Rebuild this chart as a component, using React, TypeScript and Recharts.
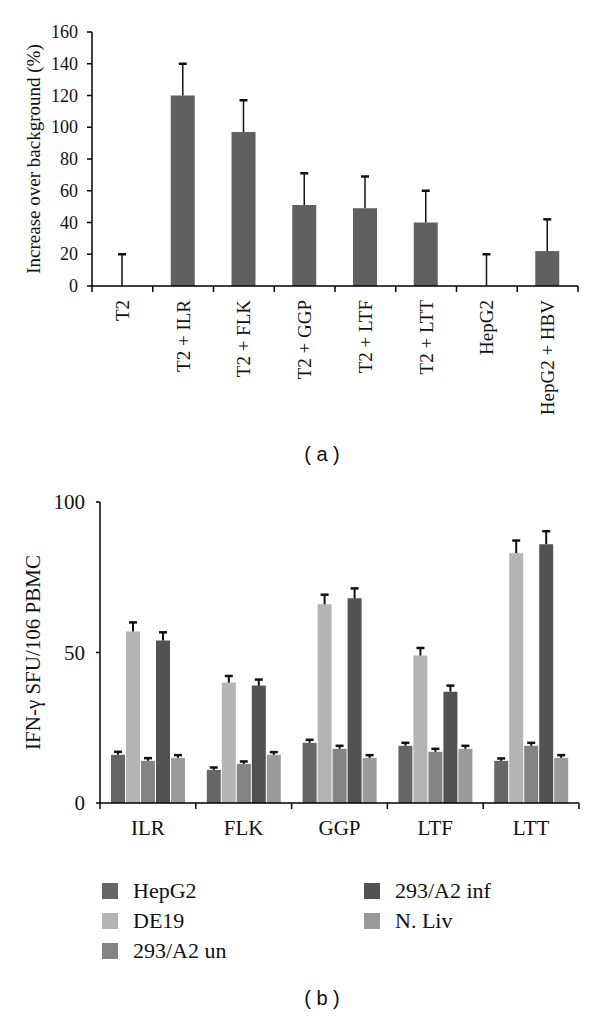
import React from 'react';
import { BarChart, Bar, XAxis, YAxis } from 'recharts';

// panel (a)
const TOP_CATEGORIES = ['T2', 'T2 + ILR', 'T2 + FLK', 'T2 + GGP', 'T2 + LTF', 'T2 + LTT', 'HepG2', 'HepG2 + HBV'];
const TOP_VALUES = [0, 120, 97, 51, 49, 40, 0, 22];
const TOP_ERRORS = [20, 20, 20, 20, 20, 20, 20, 20];
const TOP_TICKS = [0, 20, 40, 60, 80, 100, 120, 140, 160];

// panel (b)
const PEPTIDES = ['ILR', 'FLK', 'GGP', 'LTF', 'LTT'];
const SERIES_NAMES = ['HepG2', 'DE19', '293/A2 un', '293/A2 inf', 'N. Liv'];
const HEPG2_VALUES = [16, 11, 20, 19, 14];
const HEPG2_ERRORS = [1, 0.8, 1, 1, 0.8];
const DE19_VALUES = [57, 40, 66, 49, 83];
const DE19_ERRORS = [3, 2.2, 3.2, 2.5, 4.2];
const A2UN_VALUES = [14, 13, 18, 17, 19];
const A2UN_ERRORS = [0.9, 0.8, 1, 1, 1];
const A2INF_VALUES = [54, 39, 68, 37, 86];
const A2INF_ERRORS = [2.7, 2, 3.3, 2, 4.3];
const NLIV_VALUES = [15, 16, 15, 18, 15];
const NLIV_ERRORS = [0.9, 0.9, 0.9, 1, 0.9];
const BOTTOM_TICKS = [0, 50, 100];

const SERIES_VALUES = [HEPG2_VALUES, DE19_VALUES, A2UN_VALUES, A2INF_VALUES, NLIV_VALUES];
const SERIES_ERRORS = [HEPG2_ERRORS, DE19_ERRORS, A2UN_ERRORS, A2INF_ERRORS, NLIV_ERRORS];
const SERIES_COLORS = ['#666666', '#b4b4b4', '#848484', '#525252', '#9a9a9a'];

const SERIF = '"Liberation Serif", "Times New Roman", serif';

const topData = TOP_CATEGORIES.map((name, i) => ({ name, value: TOP_VALUES[i], err: TOP_ERRORS[i] }));

const bottomData = PEPTIDES.map((name, i) => {
    const row: Record<string, any> = { name };
    SERIES_VALUES.forEach((vals, s) => {
        row[`v${s}`] = vals[i];
        row[`e${s}`] = SERIES_ERRORS[s][i];
    });
    return row;
});

// error bar drawn as the stacked segment above each bar: stem + top cap only
const makeErrShape = (capHalf: number, stemWidth: number, capWidth: number) => (props: any) => {
    const { x, y, width, height } = props;
    if (height == null || isNaN(y)) return <g />;
    const cx = x + width / 2;
    return (
        <g>
            <line x1={cx} x2={cx} y1={y + height} y2={y} stroke="#111" strokeWidth={stemWidth} />
            <line x1={cx - capHalf} x2={cx + capHalf} y1={y} y2={y} stroke="#111" strokeWidth={capWidth} />
        </g>
    );
};

// category ticks sit on the boundaries between bars
const TopTick = (props: any) => {
    const { x, y, payload, index, visibleTicksCount } = props;
    const half = payload.offset ?? 0;
    return (
        <g>
            <line x1={x - half} x2={x - half} y1={y} y2={y + 6} stroke="#000" strokeWidth={1.5} />
            {index === visibleTicksCount - 1 && (
                <line x1={x + half} x2={x + half} y1={y} y2={y + 6} stroke="#000" strokeWidth={1.5} />
            )}
            <text
                x={x}
                y={y + 14}
                transform={`rotate(-90, ${x}, ${y + 14})`}
                textAnchor="end"
                dominantBaseline="central"
                fontFamily={SERIF}
                fontSize={19}
                fill="#111"
            >
                {payload.value}
            </text>
        </g>
    );
};

const BottomTick = (props: any) => {
    const { x, y, payload, index, visibleTicksCount } = props;
    const half = payload.offset ?? 0;
    return (
        <g>
            <line x1={x - half} x2={x - half} y1={y} y2={y + 6} stroke="#000" strokeWidth={1.5} />
            {index === visibleTicksCount - 1 && (
                <line x1={x + half} x2={x + half} y1={y} y2={y + 6} stroke="#000" strokeWidth={1.5} />
            )}
            <text x={x} y={y + 32} textAnchor="middle" fontFamily={SERIF} fontSize={21} fill="#111">
                {payload.value}
            </text>
        </g>
    );
};

const makeYTick = (fontSize: number) => (props: any) => {
    const { x, y, payload } = props;
    return (
        <text x={x} y={y} textAnchor="end" dominantBaseline="central" fontFamily={SERIF} fontSize={fontSize} fill="#111">
            {payload.value}
        </text>
    );
};

const captionStyle: React.CSSProperties = {
    position: 'absolute',
    left: 0,
    width: 644,
    textAlign: 'center',
    fontFamily: '"Liberation Sans", Arial, sans-serif',
    fontSize: 20,
    lineHeight: '22px',
    color: '#111',
    whiteSpace: 'pre',
};

export default function App() {
    return (
        <div style={{ position: 'absolute', top: 0, left: 0, width: 600, height: 1016, background: '#fff', overflow: 'hidden' }}>

            {/* (a) increase over background */}
            <div style={{ position: 'absolute', top: 0, left: 0 }}>
                <BarChart width={600} height={430} data={topData} margin={{ top: 32, right: 22, left: 0, bottom: 14 }} barSize={24}>
                    <XAxis
                        dataKey="name"
                        height={130}
                        stroke="#000"
                        strokeWidth={1.5}
                        tickLine={false}
                        tickSize={0}
                        tickMargin={0}
                        interval={0}
                        tick={<TopTick />}
                    />
                    <YAxis
                        width={92}
                        domain={[0, 160]}
                        ticks={TOP_TICKS}
                        interval={0}
                        stroke="#000"
                        strokeWidth={1.5}
                        tickSize={5}
                        tickMargin={9}
                        tick={makeYTick(18)}
                        label={{
                            value: 'Increase over background (%)',
                            angle: -90,
                            position: 'insideLeft',
                            offset: 33,
                            style: { textAnchor: 'middle', fontFamily: SERIF, fontSize: 19, fill: '#111' },
                        }}
                    />
                    <Bar dataKey="value" stackId="a" fill="#606060" isAnimationActive={false} />
                    <Bar dataKey="err" stackId="a" shape={makeErrShape(4, 1.5, 2.5)} isAnimationActive={false} />
                </BarChart>
            </div>
            <div style={{ ...captionStyle, top: 443 }}>{'( a )'}</div>

            {/* (b) IFN-gamma ELISpot */}
            <div style={{ position: 'absolute', top: 470, left: 0 }}>
                <BarChart width={600} height={390} data={bottomData} margin={{ top: 32, right: 21, left: 0, bottom: 12 }} barSize={14} barGap={1}>
                    <XAxis
                        dataKey="name"
                        height={45}
                        stroke="#000"
                        strokeWidth={1.5}
                        tickLine={false}
                        tickSize={0}
                        tickMargin={0}
                        interval={0}
                        tick={<BottomTick />}
                    />
                    <YAxis
                        width={100}
                        domain={[0, 100]}
                        ticks={BOTTOM_TICKS}
                        interval={0}
                        stroke="#000"
                        strokeWidth={1.5}
                        tickSize={4}
                        tickMargin={11}
                        tick={makeYTick(21)}
                        label={{
                            value: 'IFN-γ SFU/106 PBMC',
                            angle: -90,
                            position: 'insideLeft',
                            offset: 33,
                            style: { textAnchor: 'middle', fontFamily: SERIF, fontSize: 21, fill: '#111' },
                        }}
                    />
                    {SERIES_NAMES.flatMap((name, s) => [
                        <Bar key={`v${s}`} name={name} dataKey={`v${s}`} stackId={`s${s}`} fill={SERIES_COLORS[s]} isAnimationActive={false} />,
                        <Bar key={`e${s}`} dataKey={`e${s}`} stackId={`s${s}`} shape={makeErrShape(4, 2, 2.5)} isAnimationActive={false} />,
                    ])}
                </BarChart>
            </div>

            {/* legend, two columns */}
            {SERIES_NAMES.map((name, s) => {
                const col = s < 3 ? 0 : 1;
                const row = s < 3 ? s : s - 3;
                return (
                    <div
                        key={name}
                        style={{
                            position: 'absolute',
                            left: col === 0 ? 102 : 364,
                            top: 883 + row * 30,
                            height: 16,
                            display: 'flex',
                            alignItems: 'center',
                        }}
                    >
                        <div style={{ width: 16, height: 16, background: SERIES_COLORS[s] }} />
                        <span style={{ marginLeft: 15, fontFamily: SERIF, fontSize: 22, lineHeight: '16px', color: '#111', whiteSpace: 'nowrap' }}>
                            {name}
                        </span>
                    </div>
                );
            })}
            <div style={{ ...captionStyle, top: 987 }}>{'( b )'}</div>
        </div>
    );
}
